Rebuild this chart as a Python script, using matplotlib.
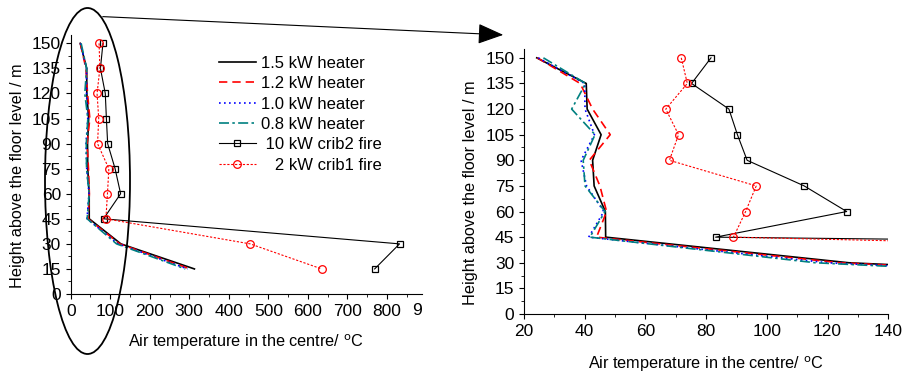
import matplotlib
matplotlib.use("Agg")
import matplotlib.pyplot as plt
from matplotlib.patches import Ellipse, FancyArrowPatch
from matplotlib.ticker import MultipleLocator

plt.rcParams['font.family'] = ['Liberation Sans', 'DejaVu Sans']

heights = [150, 135, 120, 105, 90, 75, 60, 45, 30, 15]
heater_15 = [24.2, 40.5, 40.8, 45.4, 42.6, 43.1, 46.8, 46.9, 127, 313]
heater_12 = [24.4, 38.5, 42.6, 48.4, 41.5, 45.0, 47.2, 43.9, 124, 302]
heater_10 = [24.7, 40.0, 40.1, 43.2, 38.8, 40.6, 46.3, 41.3, 120, 296]
heater_08 = [26.4, 40.3, 35.7, 43.4, 39.5, 40.1, 46.7, 41.7, 116, 290]
crib2_10kw = [81.6, 75.2, 87.5, 90.3, 93.5, 112.3, 126.3, 83.1, 832, 769]
crib1_2kw = [71.8, 73.8, 66.7, 70.9, 67.9, 96.5, 93.0, 89.0, 454, 635]

labels = ['1.5 kW heater', '1.2 kW heater', '1.0 kW heater', '0.8 kW heater',
          ' 10 kW crib2 fire', '   2 kW crib1 fire']

TICK_FS = 12.5
LAB_FS = 11.7
LEG_FS = 12

fig = plt.figure(figsize=(9.06, 3.75), dpi=100)
W, H = 906, 375
axL = fig.add_axes([70.7 / W, 1 - 294 / H, (421.7 - 70.7) / W, (294 - 35) / H])
axR = fig.add_axes([524 / W, 1 - 314 / H, (888.3 - 524) / W, (314 - 49.3) / H])


def draw(ax):
    ax.plot(heater_15, heights, color='black', lw=1.2, ls='-', label=labels[0])
    ax.plot(heater_12, heights, color='red', lw=1.2, ls=(0, (5, 3)), label=labels[1])
    ax.plot(heater_10, heights, color='blue', lw=1.2, ls=(0, (1, 2)), label=labels[2])
    ax.plot(heater_08, heights, color='#008080', lw=1.2, ls=(0, (6, 2, 1.5, 2)), label=labels[3])
    ax.plot(crib2_10kw, heights, color='black', lw=0.8, ls='-', marker='s', ms=4.5,
            mfc='none', mec='black', mew=0.9, label=labels[4])
    ax.plot(crib1_2kw, heights, color='red', lw=0.8, ls=(0, (2, 1.5)), marker='o', ms=5.5,
            mfc='none', mec='red', mew=0.9, label=labels[5])
    for s in ['top', 'right']:
        ax.spines[s].set_visible(False)
    ax.yaxis.set_major_locator(MultipleLocator(15))
    ax.yaxis.set_minor_locator(MultipleLocator(7.5))
    ax.tick_params(which='both', direction='out', labelsize=TICK_FS, pad=3.5)
    ax.tick_params(which='major', length=3.5)
    ax.tick_params(which='minor', length=2.5)
    ax.set_ylim(0, 155)
    ax.set_xlabel('Air temperature in the centre/ $^{\\rm o}$C', fontsize=LAB_FS)
    ax.set_ylabel('Height above the floor level / m', fontsize=LAB_FS)


draw(axL)
axL.set_xlim(0, 888)
axL.xaxis.set_major_locator(MultipleLocator(100))
axL.xaxis.set_minor_locator(MultipleLocator(50))
axL.text(1.0, -0.033, '9', transform=axL.transAxes, ha='right', va='top', fontsize=TICK_FS)
axL.xaxis.set_label_coords(0.5, -0.15)
axL.yaxis.set_label_coords(-0.130, 0.456)

draw(axR)
axR.set_xlim(20, 140)
axR.xaxis.set_major_locator(MultipleLocator(20))
axR.xaxis.set_minor_locator(MultipleLocator(10))
axR.xaxis.set_label_coords(0.5, -0.151)
axR.yaxis.set_label_coords(-0.126, 0.457)

axL.legend(loc='upper left', bbox_to_anchor=(219 / W, 1 - 56 / H),
           bbox_transform=fig.transFigure, frameon=False, fontsize=LEG_FS,
           handlelength=2.2, handletextpad=0.3, labelspacing=0.32,
           borderpad=0, borderaxespad=0)

ell = Ellipse((87.5 / W, 1 - 181 / H), 85 / W, 346 / H, transform=fig.transFigure,
              fill=False, ec='black', lw=1.3)
fig.add_artist(ell)
arr = FancyArrowPatch((100 / W, 1 - 16.5 / H), (506 / W, 1 - 35 / H),
                      transform=fig.transFigure, arrowstyle='-|>,head_length=10,head_width=4',
                      color='black', lw=0.8, mutation_scale=1.6)
fig.add_artist(arr)

fig.savefig('out.png', dpi=100)
